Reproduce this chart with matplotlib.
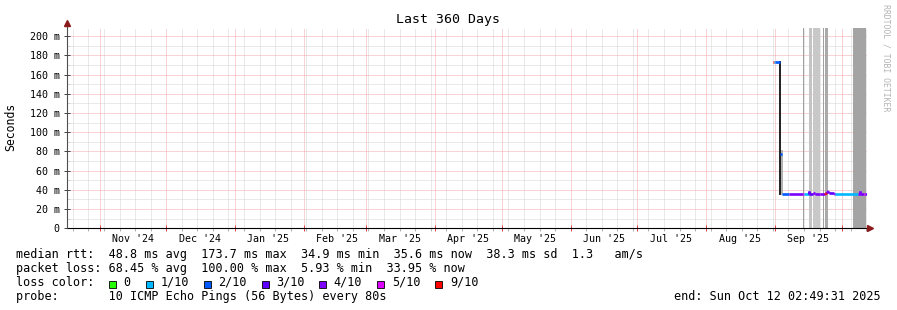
import datetime as dt
import matplotlib
matplotlib.use('Agg')
import matplotlib.pyplot as plt
import matplotlib.dates as mdates
from matplotlib.patches import Rectangle

# ---- data ----
end_time = dt.datetime(2025, 10, 12, 2, 49, 31)
start_time = end_time - dt.timedelta(days=360)

# median rtt (ms), each value holds until the next time stamp, loss level index
med_times = ['2025-08-30 20:00', '2025-08-31 07:00', '2025-09-01 04:00',
             '2025-09-03 08:00', '2025-09-03 21:00', '2025-09-07 01:00',
             '2025-09-13 08:00', '2025-09-13 19:00', '2025-09-16 01:00',
             '2025-09-16 10:00', '2025-09-17 20:00', '2025-09-18 20:00',
             '2025-09-21 10:00', '2025-09-23 05:30', '2025-09-24 03:00',
             '2025-09-24 20:00', '2025-09-25 11:00', '2025-09-27 07:00',
             '2025-09-28 04:00', '2025-10-08 02:00', '2025-10-09 03:00',
             '2025-10-09 10:00', '2025-10-11 00:00', '2025-10-11 12:00']
med_rtt = [173.5, 173.5, 173.5,
           77.5, 35.8, 35.8,
           35.8, 35.8, 38.5,
           36.0, 36.5, 35.5,
           35.6, 36.5, 38.8,
           37.5, 36.8, 36.0,
           35.9, 36.0, 38.5,
           36.0, 36.2, 35.8]
med_loss = [6, 1, 2,
            2, 2, 4,
            5, 1, 4,
            3, 4, 4,
            4, 6, 4,
            4, 3, 4,
            1, 4, 4,
            4, 5, 4]
med_stop = ['2025-09-03 03:00']  # gap in the median line

# dense smoke where the rtt dropped
smoke_time = ['2025-09-03 03:00', '2025-09-03 22:00']
smoke_low = [35.8, 35.8]
smoke_high = [173.5, 80.0]

# full-height grey bars
gap_start = ['2025-09-13 08:00', '2025-09-16 01:00', '2025-09-17 20:00',
             '2025-09-22 08:00', '2025-09-23 16:00', '2025-09-25 01:00',
             '2025-10-05 20:00']
gap_end = ['2025-09-14 02:00', '2025-09-17 11:00', '2025-09-21 10:00',
           '2025-09-22 19:00', '2025-09-24 14:00', '2025-09-25 11:00',
           '2025-10-12 02:49']
gap_colors = ['#a0a0a0', '#c4c4c4', '#c8c8c8', '#a0a0a0', '#aaaaaa', '#a0a0a0', '#a4a4a4']

loss_labels = ['0', '1/10', '2/10', '3/10', '4/10', '5/10', '9/10']
loss_colors = ['#26ff00', '#00b8ff', '#0059ff', '#5e00ff', '#7e00ff', '#dd00ff', '#ff0000']

legend_lines = [
    'median rtt:  48.8 ms avg  173.7 ms max  34.9 ms min  35.6 ms now  38.3 ms sd  1.3   am/s',
    'packet loss: 68.45 % avg  100.00 % max  5.93 % min  33.95 % now',
    'loss color:',
    'probe:       10 ICMP Echo Pings (56 Bytes) every 80s',
]
end_label = 'end: Sun Oct 12 02:49:31 2025'

MONO = 'DejaVu Sans Mono'
W, H = 897, 310


def fx(x):
    return x / W


def fy(y):
    return 1 - y / H


def d(s):
    return mdates.date2num(dt.datetime.fromisoformat(s))


def main():
    fig = plt.figure(figsize=(W / 100, H / 100), dpi=100)
    fig.patch.set_facecolor('white')
    ax = fig.add_axes([fx(66.5), fy(228.3), 800 / W, 200.3 / H])
    ax.set_xlim(mdates.date2num(start_time), mdates.date2num(end_time))
    ax.set_ylim(0, 0.2086)
    for s in ax.spines.values():
        s.set_visible(False)

    # grid
    red = '#f2a8a8'
    grey = '#d4d4d4'
    dots = (0, (1, 1))
    ax.yaxis.set_major_locator(matplotlib.ticker.MultipleLocator(0.02))
    ax.yaxis.set_minor_locator(matplotlib.ticker.MultipleLocator(0.01))
    ax.xaxis.set_major_locator(mdates.MonthLocator())
    ax.xaxis.set_minor_locator(mdates.WeekdayLocator(byweekday=mdates.SU))
    ax.grid(True, which='minor', color=grey, lw=0.72, ls=dots, zorder=0)
    ax.grid(True, which='major', color=red, lw=0.72, ls=dots, zorder=0.5)
    ax.set_axisbelow(True)

    ax.set_yticks([0.02 * i for i in range(11)])
    ax.set_yticklabels(['0'] + ['%d m' % (20 * i) for i in range(1, 11)],
                       fontfamily=MONO, fontsize=7.2)
    ax.tick_params(axis='y', which='major', direction='inout', length=4, width=0.7,
                   color='#404040', pad=3)
    ax.tick_params(axis='y', which='minor', direction='in', length=2, width=0.7, color=grey)
    ax.tick_params(axis='x', which='major', direction='inout', length=4, width=0.7,
                   color='#e04040', labelbottom=False)
    ax.tick_params(axis='x', which='minor', direction='out', length=2, width=0.7, color='#b0b0b0')

    # month labels centred mid-month
    m = dt.datetime(start_time.year, start_time.month, 1)
    while m < end_time:
        mid = m + dt.timedelta(days=15)
        if start_time < mid < end_time:
            ax.text(mdates.date2num(mid), -0.0115, mid.strftime("%b '%y"), ha='center', va='center',
                    fontfamily=MONO, fontsize=7.2, transform=ax.transData, clip_on=False)
        m = dt.datetime(m.year + (m.month == 12), m.month % 12 + 1, 1)

    # grey bars
    for a, b, c in zip(gap_start, gap_end, gap_colors):
        ax.axvspan(d(a), d(b), color=c, lw=0, zorder=2)

    # smoke
    for t, lo, hi, c in zip(smoke_time, smoke_low, smoke_high, ['#202020', '#b0b0b0']):
        ax.plot([d(t), d(t)], [lo / 1000, hi / 1000], color=c, lw=1.4, zorder=4)

    # median line coloured by loss
    ts = [d(s) for s in med_times]
    stops = [d(s) for s in med_stop]
    ends = ts[1:] + [mdates.date2num(end_time)]
    for i in range(len(med_rtt)):
        t1 = ends[i]
        for st in stops:
            if ts[i] < st < t1:
                t1 = st
        c = loss_colors[med_loss[i]]
        y = med_rtt[i] / 1000
        ax.plot([ts[i], t1], [y, y], color=c, lw=1.9, solid_capstyle='butt', zorder=5)
        if i > 0 and abs(med_rtt[i] - med_rtt[i - 1]) < 10:
            ax.plot([ts[i], ts[i]], [med_rtt[i - 1] / 1000, y], color=c, lw=1.9,
                    solid_capstyle='butt', zorder=5)

    # axes with arrows
    fig.add_artist(plt.Line2D([fx(66.5), fx(868)], [fy(228.3), fy(228.3)], color='black', lw=0.8))
    fig.add_artist(plt.Line2D([fx(66.5), fx(66.5)], [fy(228.3), fy(24)], color='#505050', lw=0.8))
    fig.add_artist(plt.Line2D([fx(870)], [fy(228.3)], marker='>', ms=4.5, color='#8b1a1a', lw=0))
    fig.add_artist(plt.Line2D([fx(67)], [fy(23)], marker='^', ms=4.5, color='#8b1a1a', lw=0))

    # texts
    fig.text(fx(448), fy(19), 'Last 360 Days', ha='center', va='center', fontfamily=MONO, fontsize=9.5)
    fig.text(fx(11), fy(127), 'Seconds', ha='center', va='center', rotation=90,
             fontfamily=MONO, fontsize=8.3)
    fig.text(fx(886), fy(4), 'RRDTOOL / TOBI OETIKER', ha='center', va='top', rotation=270,
             fontfamily=MONO, fontsize=5.9, color='#b4b4b4')

    ys = [254.3, 268.3, 282.3, 296.3]
    for line, y in zip(legend_lines, ys):
        fig.text(fx(16), fy(y), line, ha='left', va='center', fontfamily=MONO, fontsize=8.5)
    fig.text(fx(881), fy(296.3), end_label, ha='right', va='center', fontfamily=MONO, fontsize=8.5)

    box_x = [108.5, 146, 203.7, 261.7, 319.3, 377.3, 435.3]
    for bx, lab, c in zip(box_x, loss_labels, loss_colors):
        fig.add_artist(Rectangle((fx(bx), fy(287.5)), 7 / W, 7 / H, facecolor=c,
                                 edgecolor='black', lw=0.6))
        fig.text(fx(bx + 14.5), fy(282.3), lab, ha='left', va='center', fontfamily=MONO, fontsize=8.5)

    fig.savefig('out.png', dpi=100, facecolor='white')
    plt.close(fig)


if __name__ == "__main__":
    main()
